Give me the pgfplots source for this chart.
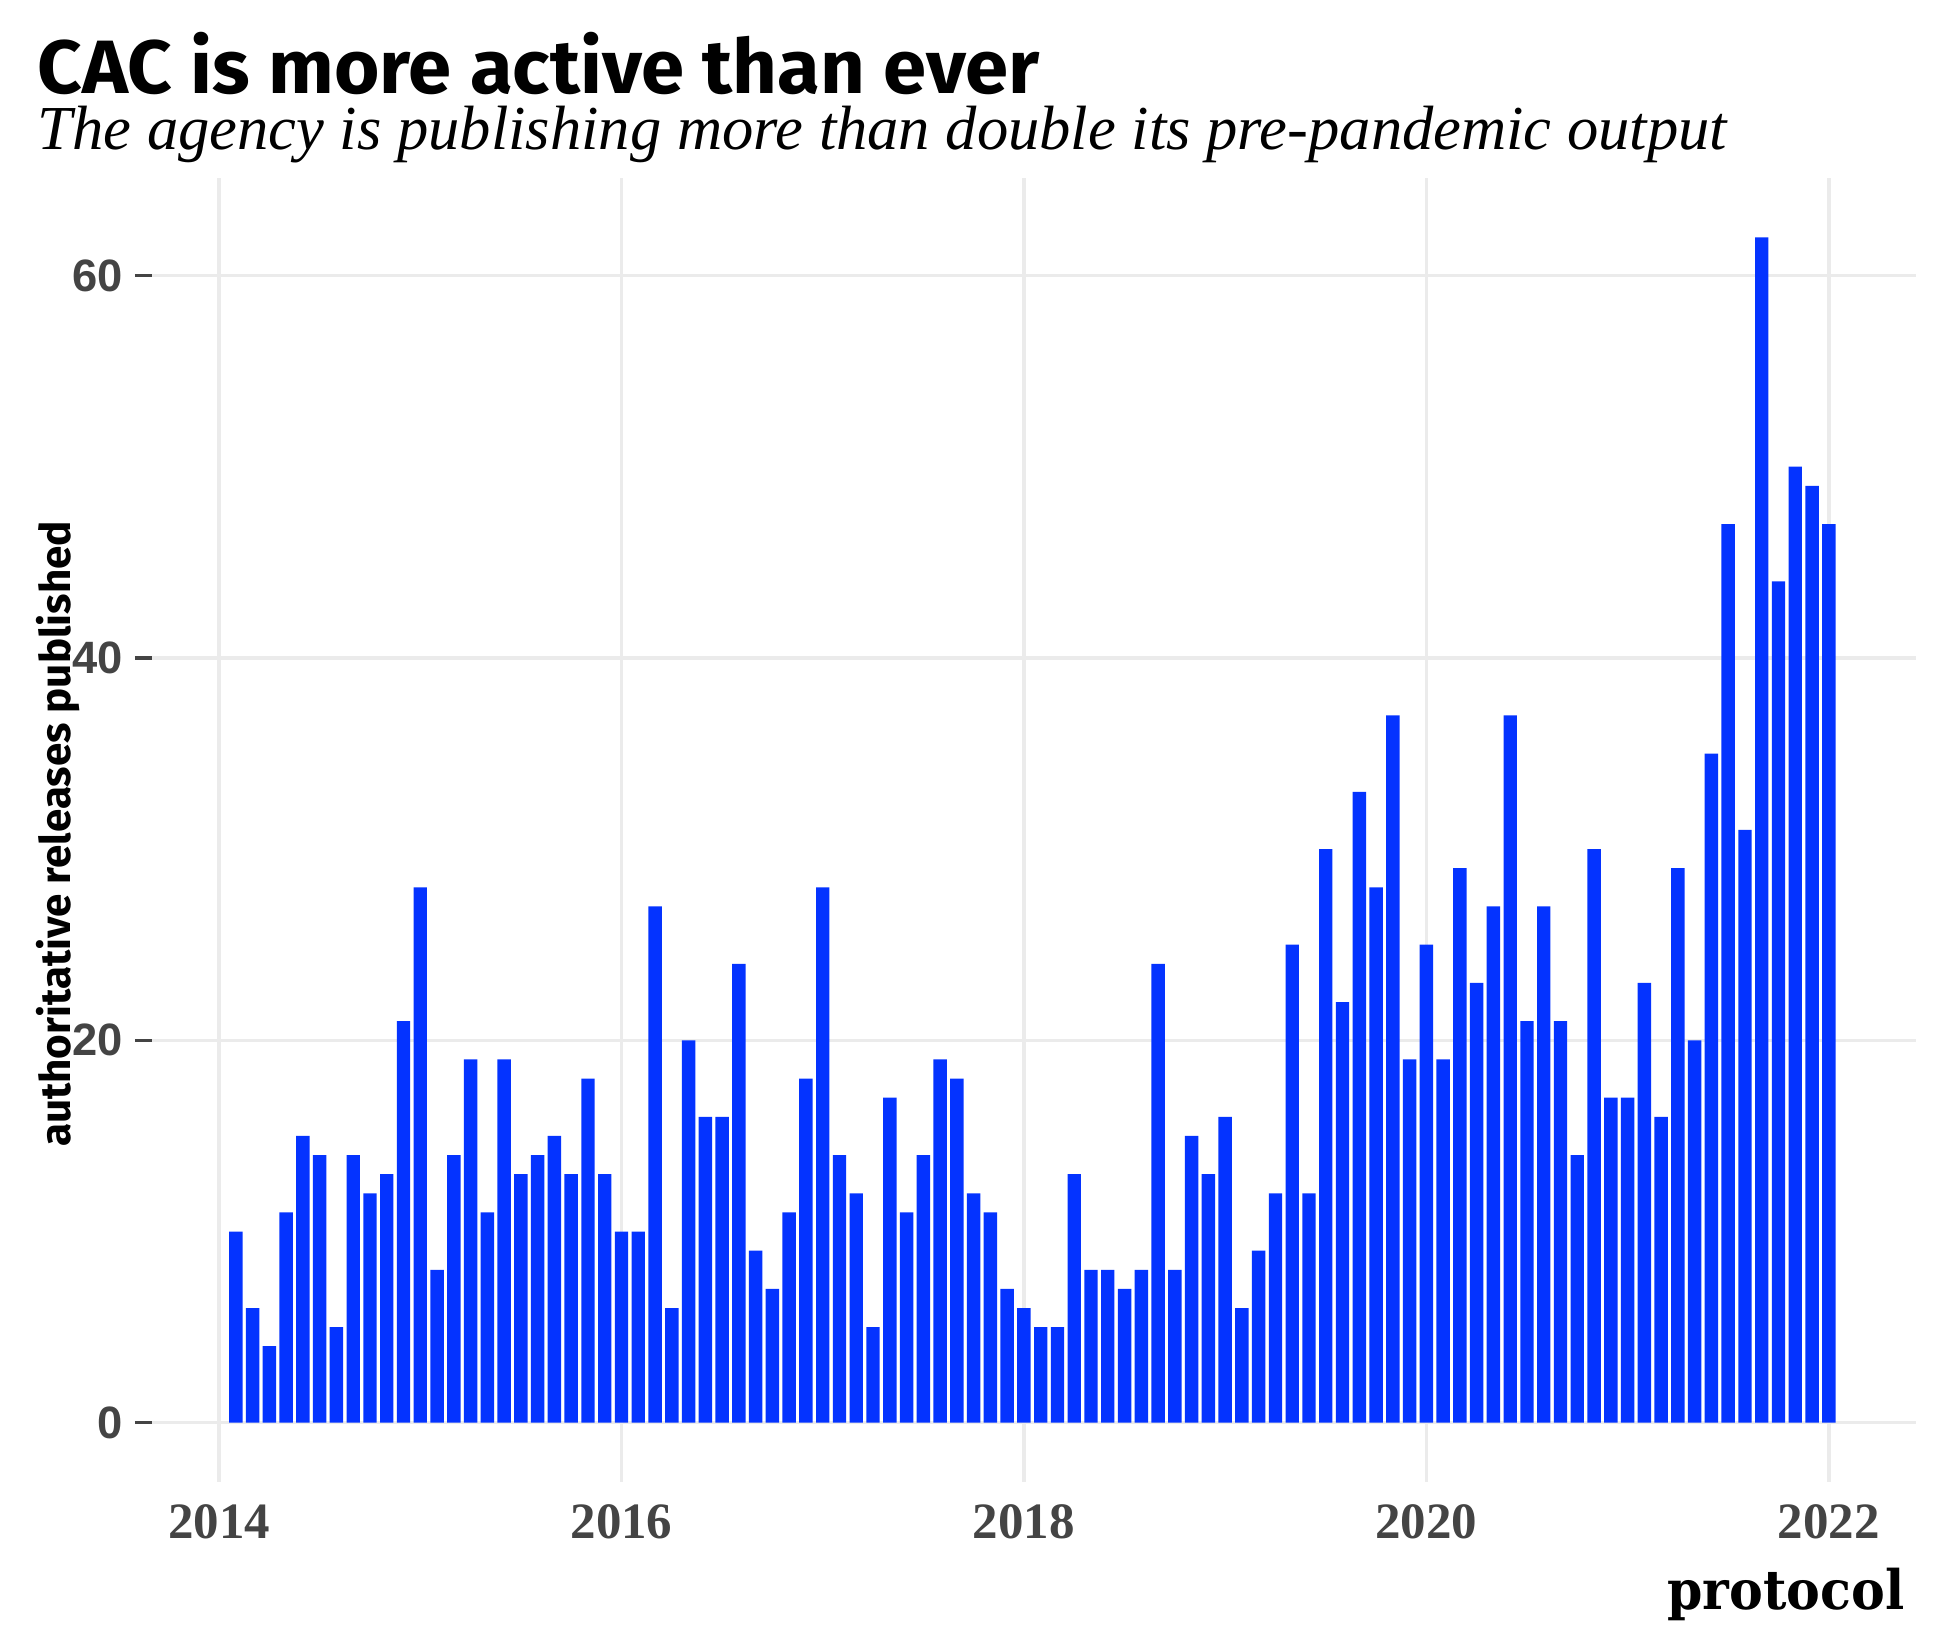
\documentclass[border=0pt]{standalone}
\usepackage{fontspec}
\setmainfont{Liberation Serif}
\newfontfamily\titlefont{Fira Sans}[FakeStretch=1.03]
\newfontfamily\labfont{Fira Sans}
\newfontfamily\ytickfont{Liberation Sans}
\newfontfamily\logofont{DejaVu Serif}[FakeStretch=0.93]
\usepackage{pgfplots}
\usepackage{pgfplotstable}
\pgfplotsset{compat=1.18}
\definecolor{barblue}{RGB}{4,51,255}
\definecolor{gridgray}{RGB}{235,235,235}
\definecolor{tickgray}{RGB}{68,68,68}

% monthly count, month 0 = Jan 2014
\pgfplotstableread{
m n
1 10
2 6
3 4
4 11
5 15
6 14
7 5
8 14
9 12
10 13
11 21
12 28
13 8
14 14
15 19
16 11
17 19
18 13
19 14
20 15
21 13
22 18
23 13
24 10
25 10
26 27
27 6
28 20
29 16
30 16
31 24
32 9
33 7
34 11
35 18
36 28
37 14
38 12
39 5
40 17
41 11
42 14
43 19
44 18
45 12
46 11
47 7
48 6
49 5
50 5
51 13
52 8
53 8
54 7
55 8
56 24
57 8
58 15
59 13
60 16
61 6
62 9
63 12
64 25
65 12
66 30
67 22
68 33
69 28
70 37
71 19
72 25
73 19
74 29
75 23
76 27
77 37
78 21
79 27
80 21
81 14
82 30
83 17
84 17
85 23
86 16
87 29
88 20
89 35
90 47
91 31
92 62
93 44
94 50
95 49
96 47
}\releases

\begin{document}
\begin{tikzpicture}
\path[use as bounding box] (0,0) rectangle (19.5cm,16.5cm);
\begin{axis}[
  at={(1.52cm,1.68cm)}, anchor=south west,
  width=17.64cm, height=13.04cm, scale only axis,
  xmin=-4, xmax=101.2, ymin=-3.1, ymax=65.1,
  axis line style={draw=none},
  xtick={0,24,48,72,96},
  xticklabels={2014,2016,2018,2020,2022},
  ytick={0,20,40,60},
  grid=major,
  grid style={gridgray, line width=1pt},
  tick align=outside,
  ytick pos=left,
  xtick pos=bottom,
  major tick length=0.17cm,
  ytick style={tickgray, line width=1pt},
  xtick style={draw=none},
  /pgf/number format/assume math mode=true,
  yticklabel style={font=\ytickfont\bfseries\fontsize{12.9}{14}\selectfont, text=tickgray},
  xticklabel style={font=\bfseries\fontsize{14.5}{16}\selectfont, text=tickgray, anchor=north, inner sep=0pt, yshift=-0.05cm},
]
\addplot[ybar, bar width=0.8, fill=barblue, draw=none] table[x=m, y=n] {\releases};
\end{axis}
\node[anchor=base west, inner sep=0pt] at (0.37cm,15.56cm)
  {\titlefont\bfseries\fontsize{21.5}{24}\selectfont CAC is more active than ever};
\node[anchor=base west, inner sep=0pt] at (0.37cm,15.0cm)
  {\itshape\fontsize{17.8}{20}\selectfont The agency is publishing more than double its pre-pandemic output};
\node[rotate=90, inner sep=0pt] at (0.58cm,8.16cm)
  {\labfont\bfseries\fontsize{12}{14}\selectfont authoritative releases published};
\node[anchor=base east, inner sep=0pt] at (19.05cm,0.40cm)
  {\logofont\bfseries\fontsize{15.5}{18}\selectfont protocol};
\end{tikzpicture}
\end{document}
